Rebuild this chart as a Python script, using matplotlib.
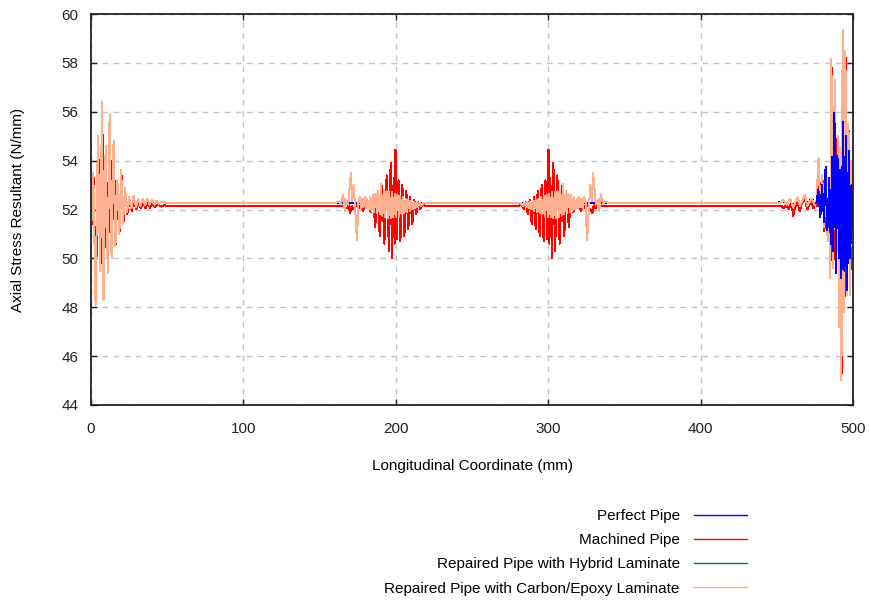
import matplotlib
matplotlib.use("Agg")
import matplotlib.pyplot as plt

plt.rcParams['font.family'] = ['Liberation Sans', 'DejaVu Sans']

# ---------------- data (x in mm, axial stress resultant in N/mm) ----------------
series_labels = ["Perfect Pipe", "Machined Pipe",
                 "Repaired Pipe with Hybrid Laminate",
                 "Repaired Pipe with Carbon/Epoxy Laminate"]
series_colors = ["#0000ff", "#ff0000", "#1a6e4c", "#ffb090"]

x_ticks = [0, 100, 200, 300, 400, 500]
y_ticks = [44, 46, 48, 50, 52, 54, 56, 58, 60]

# Carbon/Epoxy repaired pipe
carbon_left = [(0.0, 51.0), (1.5, 53.5), (3.0, 48.1), (4.5, 55.0), (6.0, 49.5), (7.2, 56.4),
               (8.2, 48.3), (9.6, 54.6), (11.0, 49.4), (12.2, 55.9), (13.5, 50.0), (14.8, 54.8),
               (16.0, 50.5), (17.3, 53.2), (18.6, 51.0), (19.8, 53.6), (21.0, 51.4), (22.3, 52.9),
               (23.6, 51.9), (25.0, 52.5), (26.5, 52.05), (28.0, 52.55), (29.5, 52.1), (31.0, 52.45),
               (32.5, 52.15), (34.0, 52.45), (35.5, 52.18), (37.0, 52.42), (38.5, 52.2), (40.0, 52.4),
               (41.5, 52.2), (43.0, 52.36), (44.5, 52.22), (46.0, 52.32), (50.0, 52.27)]
carbon_mid1 = [(150.0, 52.27), (160.0, 52.27), (162.5, 52.32), (164.0, 52.22), (165.5, 52.6),
               (166.5, 51.95), (167.5, 52.4), (168.8, 52.2), (170.5, 53.5), (171.3, 52.35),
               (172.3, 53.0), (173.2, 52.2), (174.5, 50.75), (175.5, 52.3), (176.5, 52.5),
               (177.3, 52.05), (178.0, 52.45), (178.8, 52.1), (179.6, 52.5), (180.4, 52.05),
               (181.3, 52.45), (182.2, 52.0), (183.1, 52.5), (184.0, 51.95), (184.9, 52.6),
               (185.8, 51.9), (186.7, 52.65), (187.6, 51.85), (188.5, 52.75), (189.4, 51.8),
               (190.3, 53.05), (191.2, 51.75), (192.1, 52.8), (193.0, 51.7), (193.9, 52.75),
               (194.8, 51.65), (195.7, 52.7), (196.6, 51.65), (197.5, 52.7), (198.4, 51.7),
               (199.3, 52.65), (200.2, 51.7), (201.1, 52.6), (202.0, 51.75), (202.9, 52.55),
               (203.8, 51.8), (204.7, 52.5), (205.6, 51.85), (206.5, 52.45), (207.4, 51.9),
               (208.3, 52.4), (209.2, 51.95), (210.1, 52.35), (211.0, 52.0), (211.9, 52.32),
               (212.8, 52.05), (213.7, 52.3), (214.6, 52.1), (215.5, 52.28), (216.5, 52.15),
               (218.0, 52.27)]
carbon_mid2 = [(282.0, 52.27), (283.5, 52.15), (284.5, 52.28), (285.4, 52.1), (286.3, 52.3),
               (287.2, 52.05), (288.1, 52.32), (289.0, 52.0), (289.9, 52.35), (290.8, 51.95),
               (291.7, 52.4), (292.6, 51.9), (293.5, 52.45), (294.4, 51.85), (295.3, 52.5),
               (296.2, 51.8), (297.1, 52.55), (298.0, 51.75), (298.9, 52.6), (299.8, 51.7),
               (300.7, 52.65), (301.6, 51.7), (302.5, 52.7), (303.4, 51.65), (304.3, 52.7),
               (305.2, 51.65), (306.1, 52.75), (307.0, 51.7), (307.9, 52.8), (308.8, 51.75),
               (309.7, 53.05), (310.6, 51.8), (311.5, 52.75), (312.4, 51.85), (313.3, 52.65),
               (314.2, 51.9), (315.1, 52.6), (316.0, 51.95), (316.9, 52.5), (317.8, 52.0),
               (318.7, 52.45), (319.6, 52.05), (320.4, 52.5), (321.2, 52.1), (322.0, 52.45),
               (322.7, 52.05), (323.5, 52.5), (324.5, 52.3), (325.5, 50.75), (326.8, 52.2),
               (327.7, 53.0), (328.7, 52.35), (329.5, 53.5), (331.2, 52.2), (332.5, 52.4),
               (333.5, 51.95), (334.5, 52.6), (336.0, 52.22), (337.5, 52.32), (340.0, 52.27)]
carbon_right = [(450.0, 52.27), (452.0, 52.27), (454.3, 52.38), (456.5, 52.2), (458.7, 52.45),
                (460.8, 52.1), (463.5, 52.5), (465.2, 52.15), (468.5, 52.6), (470.0, 52.15),
                (472.8, 52.45), (475.0, 52.2), (476.0, 52.3), (477.4, 54.1), (478.6, 51.9),
                (479.8, 53.4), (481.0, 51.3), (482.2, 52.9), (483.4, 50.7), (484.3, 52.6),
                (485.0, 49.2), (485.8, 58.15), (487.0, 49.6), (488.0, 57.3), (489.0, 50.3),
                (490.0, 55.0), (490.8, 47.2), (491.6, 54.5), (492.4, 45.0), (493.2, 59.35),
                (494.2, 47.8), (495.0, 58.5), (496.0, 48.5), (497.0, 55.5), (498.0, 48.5),
                (499.0, 54.0), (500.0, 51.5)]

# Machined pipe
machined_left = [(0.0, 50.9), (1.7, 53.3), (3.2, 48.3), (4.7, 54.8), (6.2, 49.6), (7.4, 56.2),
                 (8.4, 48.5), (9.8, 54.4), (11.2, 49.6), (12.4, 55.7), (13.7, 50.2), (15.0, 54.6),
                 (16.2, 50.6), (17.5, 53.0), (18.8, 51.1), (20.0, 53.4), (21.2, 51.4), (22.5, 52.7),
                 (23.8, 51.8), (25.2, 52.35), (26.7, 51.95), (28.2, 52.4), (29.7, 52.0), (31.2, 52.3),
                 (32.7, 52.05), (34.2, 52.3), (35.7, 52.05), (37.2, 52.28), (38.7, 52.08),
                 (40.2, 52.25), (42.0, 52.1), (44.0, 52.22), (46.0, 52.12), (48.0, 52.18), (50.0, 52.15)]
machined_mid1 = [(160.0, 52.15), (165.0, 52.15), (168.0, 52.05), (169.0, 52.2), (170.0, 51.85),
                 (171.0, 52.15), (172.5, 52.0), (174.0, 52.2), (175.5, 52.05), (177.0, 52.15),
                 (178.5, 51.95), (180.0, 52.15), (182.0, 52.3), (183.5, 51.9), (185.0, 52.5),
                 (186.5, 51.3), (188.0, 52.6), (189.5, 50.9), (191.0, 52.95), (192.5, 50.6),
                 (194.0, 53.4), (195.5, 50.3), (196.6, 53.9), (197.5, 50.0), (198.6, 53.3),
                 (199.2, 50.6), (199.8, 54.45), (200.7, 50.8), (201.8, 53.2), (203.0, 50.7),
                 (204.3, 53.0), (205.6, 50.9), (206.9, 52.75), (208.2, 51.2), (209.5, 52.5),
                 (210.8, 51.4), (212.1, 52.4), (213.4, 51.8), (214.7, 52.3), (216.0, 52.0),
                 (217.5, 52.2), (219.0, 52.15)]
machined_mid2 = [(281.0, 52.15), (282.5, 52.2), (284.0, 52.0), (285.3, 52.3), (286.6, 51.8),
                 (287.9, 52.4), (289.2, 51.4), (290.5, 52.5), (291.8, 51.2), (293.1, 52.75),
                 (294.4, 50.9), (295.7, 53.0), (297.0, 50.7), (298.2, 53.2), (299.3, 50.8),
                 (300.2, 54.45), (300.8, 50.6), (301.4, 53.3), (302.5, 50.0), (303.4, 53.9),
                 (304.5, 50.3), (306.0, 53.4), (307.5, 50.6), (309.0, 52.95), (310.5, 50.9),
                 (312.0, 52.6), (313.5, 51.3), (315.0, 52.5), (316.5, 51.9), (318.0, 52.3),
                 (320.0, 52.15), (321.5, 51.95), (323.0, 52.15), (324.5, 52.05), (326.0, 52.2),
                 (327.5, 52.0), (329.0, 51.85), (330.0, 52.2), (331.0, 52.05), (332.0, 52.2),
                 (335.0, 52.15), (340.0, 52.15)]
machined_right = [(450.0, 52.15), (453.0, 52.15), (454.5, 52.05), (456.0, 52.2), (458.0, 52.0),
                  (459.5, 52.3), (460.8, 51.75), (462.0, 52.1), (463.5, 52.35), (465.0, 51.95),
                  (466.5, 52.25), (468.5, 52.4), (470.0, 52.0), (471.5, 52.2), (472.8, 52.3),
                  (474.0, 52.05), (475.0, 52.2), (476.2, 52.15), (477.6, 53.8), (478.8, 51.8),
                  (480.0, 53.2), (481.2, 51.1), (482.4, 52.7), (483.6, 50.9), (484.5, 52.4),
                  (485.2, 49.5), (486.0, 57.8), (487.2, 49.9), (488.2, 57.0), (489.2, 50.5),
                  (490.2, 54.7), (491.0, 47.5), (491.8, 54.2), (492.6, 45.3), (493.4, 59.2),
                  (494.4, 48.1), (495.2, 58.2), (496.2, 48.7), (497.2, 55.2), (498.2, 48.7),
                  (499.2, 53.8), (500.0, 51.6)]

# Perfect pipe (left end coincides with the carbon/epoxy curve)
perfect_left = carbon_left
perfect_near_end = [(450.0, 52.27), (454.3, 52.35), (456.5, 52.22), (458.7, 52.42), (460.8, 52.12),
                    (463.5, 52.48), (465.2, 52.18), (468.5, 52.55), (470.0, 52.18), (472.8, 52.45),
                    (475.0, 52.22), (476.0, 52.27)]
perfect_end = [(476.0, 52.27), (477.3, 52.8), (478.5, 51.7), (479.7, 53.0), (481.0, 51.5),
               (482.0, 53.75), (483.2, 51.15), (484.4, 53.3), (485.4, 50.6), (486.2, 54.15),
               (487.0, 50.3), (487.8, 55.95), (488.8, 49.4), (489.8, 54.2), (490.8, 50.0),
               (491.6, 53.6), (492.4, 49.2), (493.4, 55.6), (494.4, 49.5), (495.2, 55.0),
               (496.2, 48.7), (497.2, 54.4), (498.2, 50.0), (499.0, 53.0), (499.6, 51.2),
               (500.0, 51.8)]

# Hybrid-laminate repaired pipe (coincides with the carbon/epoxy curve)
hybrid_left, hybrid_mid1, hybrid_mid2, hybrid_right = carbon_left, carbon_mid1, carbon_mid2, carbon_right


def assemble(*segments):
    xs, ys = [], []
    for seg in segments:
        for x, y in seg:
            xs.append(x)
            ys.append(y)
    return xs, ys


perfect_a = assemble(perfect_left, perfect_near_end)
perfect_b = assemble(perfect_end)
machined = assemble(machined_left, machined_mid1, machined_mid2, machined_right)
hybrid = assemble(hybrid_left, hybrid_mid1, hybrid_mid2, hybrid_right)
carbon = assemble(carbon_left, carbon_mid1, carbon_mid2, carbon_right)

# ---------------- figure ----------------
FS = 11
fig = plt.figure(figsize=(8.69, 6.01), dpi=100)
ax = fig.add_axes([91 / 869, 1 - 405 / 601, (853 - 91) / 869, (405 - 14) / 601])

kw = dict(lw=0.72, antialiased=False)
h_perf, = ax.plot(*perfect_a, color=series_colors[0], zorder=2, **kw)
ax.plot(*perfect_b, color=series_colors[0], zorder=6, **kw)
h_mach, = ax.plot(*machined, color=series_colors[1], zorder=3, **kw)
h_hyb, = ax.plot(*hybrid, color=series_colors[2], zorder=4, **kw)
h_carb, = ax.plot(*carbon, color=series_colors[3], zorder=5, **kw)
handles = [h_perf, h_mach, h_hyb, h_carb]

ax.set_xlim(0, 500)
ax.set_ylim(44, 60)
ax.set_xticks(x_ticks)
ax.set_yticks(y_ticks)
ax.grid(True, color='#c4c4c4', linestyle=(0, (4, 4)), linewidth=1.0)
ax.set_axisbelow(True)
ax.tick_params(direction='in', length=4, width=1, top=True, right=True,
               labelsize=FS, colors='#222222')
ax.tick_params(axis='x', pad=12)
ax.tick_params(axis='y', pad=9)
for sp in ax.spines.values():
    sp.set_linewidth(1.3)
    sp.set_color('#222222')
    sp.set_zorder(10)

ax.set_xlabel("Longitudinal Coordinate (mm)", fontsize=FS)
ax.set_ylabel("Axial Stress Resultant (N/mm)", fontsize=FS)
ax.xaxis.set_label_coords(0.5, -(459 - 405) / 391)
ax.yaxis.set_label_coords(-(91 - 25) / 762, 0.5)

leg = fig.legend(handles, series_labels, loc='upper right',
                 bbox_to_anchor=(747 / 869, 1 - 509 / 601), frameon=False,
                 markerfirst=False, fontsize=FS, handlelength=3.5, handletextpad=0.9,
                 labelspacing=0.67, borderpad=0, borderaxespad=0)
for ln in leg.get_lines():
    ln.set_linewidth(1.0)
    ln.set_antialiased(True)

fig.savefig("out.png", dpi=100)
